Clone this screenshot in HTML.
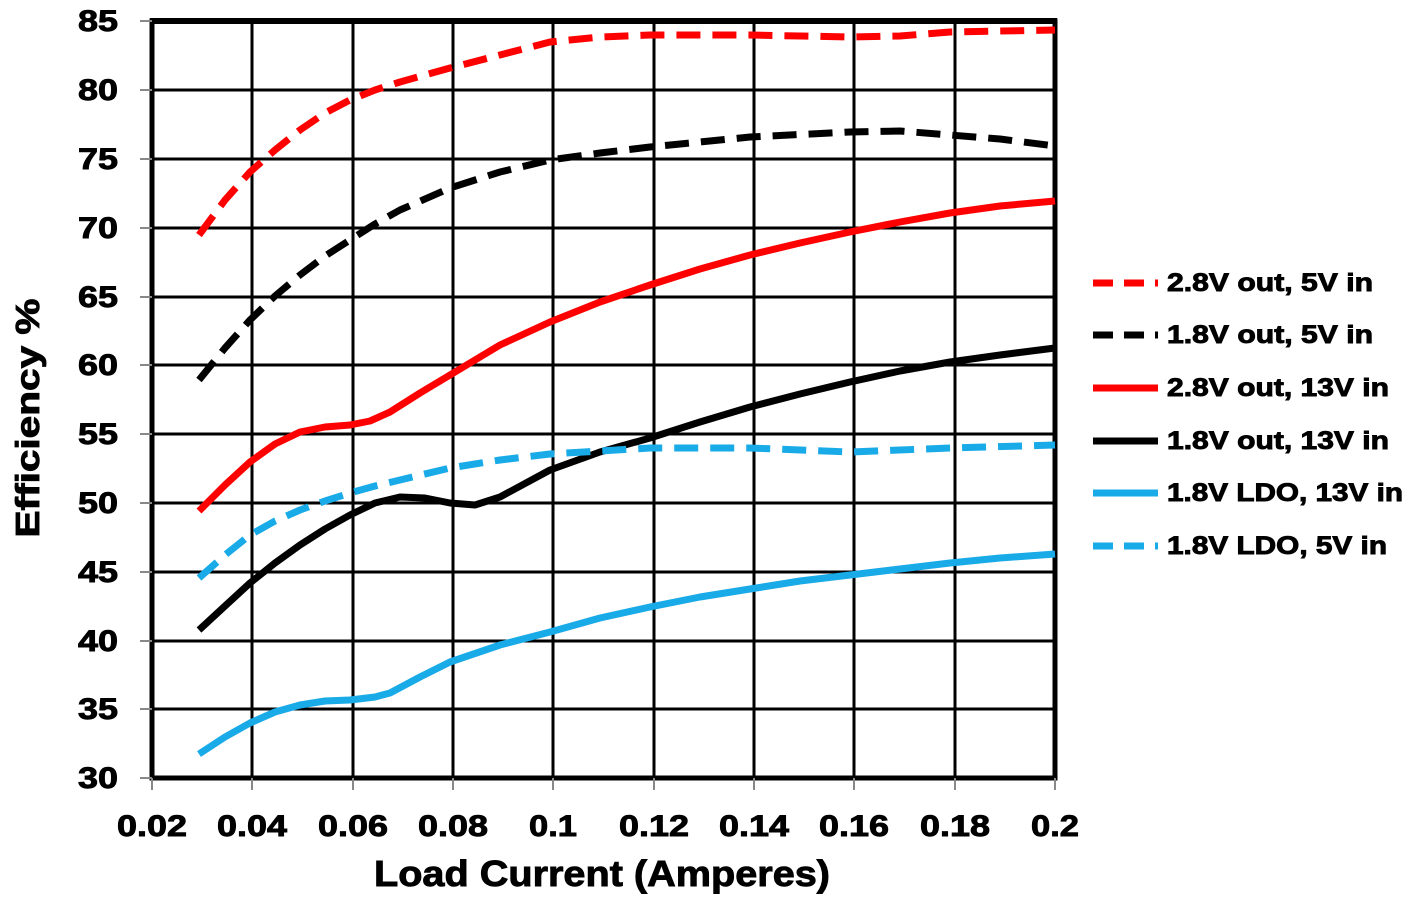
<!DOCTYPE html>
<html><head><meta charset="utf-8"><style>
body{margin:0;background:#fff}
svg{display:block}
text{font-family:"Liberation Sans",Arial,sans-serif;font-weight:bold;fill:#000;stroke:#000;stroke-width:0.9}
</style></head><body>
<svg width="1415" height="901" viewBox="0 0 1415 901" xmlns="http://www.w3.org/2000/svg">
<g stroke="#000" stroke-width="3">
<line x1="252" y1="21" x2="252" y2="778"/><line x1="353" y1="21" x2="353" y2="778"/>
<line x1="453" y1="21" x2="453" y2="778"/><line x1="553" y1="21" x2="553" y2="778"/>
<line x1="654" y1="21" x2="654" y2="778"/><line x1="754" y1="21" x2="754" y2="778"/>
<line x1="854" y1="21" x2="854" y2="778"/><line x1="955" y1="21" x2="955" y2="778"/>
<line x1="152" y1="90" x2="1055" y2="90"/><line x1="152" y1="159" x2="1055" y2="159"/>
<line x1="152" y1="228" x2="1055" y2="228"/><line x1="152" y1="297" x2="1055" y2="297"/>
<line x1="152" y1="365" x2="1055" y2="365"/><line x1="152" y1="434" x2="1055" y2="434"/>
<line x1="152" y1="503" x2="1055" y2="503"/><line x1="152" y1="572" x2="1055" y2="572"/>
<line x1="152" y1="641" x2="1055" y2="641"/><line x1="152" y1="709" x2="1055" y2="709"/>
</g>
<rect x="152" y="21" width="903" height="757" fill="none" stroke="#000" stroke-width="5"/>
<line x1="150" y1="21" x2="1057" y2="21" stroke="#000" stroke-width="6"/>
<g stroke="#888" stroke-width="2">
<line x1="140" y1="21" x2="152" y2="21"/><line x1="140" y1="90" x2="152" y2="90"/><line x1="140" y1="159" x2="152" y2="159"/>
<line x1="140" y1="228" x2="152" y2="228"/><line x1="140" y1="297" x2="152" y2="297"/><line x1="140" y1="365" x2="152" y2="365"/>
<line x1="140" y1="434" x2="152" y2="434"/><line x1="140" y1="503" x2="152" y2="503"/><line x1="140" y1="572" x2="152" y2="572"/>
<line x1="140" y1="641" x2="152" y2="641"/><line x1="140" y1="709" x2="152" y2="709"/><line x1="140" y1="778" x2="152" y2="778"/>
<line x1="152" y1="778" x2="152" y2="790"/><line x1="252" y1="778" x2="252" y2="790"/><line x1="353" y1="778" x2="353" y2="790"/>
<line x1="453" y1="778" x2="453" y2="790"/><line x1="553" y1="778" x2="553" y2="790"/><line x1="654" y1="778" x2="654" y2="790"/>
<line x1="754" y1="778" x2="754" y2="790"/><line x1="854" y1="778" x2="854" y2="790"/><line x1="955" y1="778" x2="955" y2="790"/>
<line x1="1055" y1="778" x2="1055" y2="790"/>
</g>
<g font-size="30" text-anchor="end">
<text x="118" y="31" textLength="40" lengthAdjust="spacingAndGlyphs">85</text>
<text x="118" y="100" textLength="40" lengthAdjust="spacingAndGlyphs">80</text>
<text x="118" y="169" textLength="40" lengthAdjust="spacingAndGlyphs">75</text>
<text x="118" y="238" textLength="40" lengthAdjust="spacingAndGlyphs">70</text>
<text x="118" y="307" textLength="40" lengthAdjust="spacingAndGlyphs">65</text>
<text x="118" y="375" textLength="40" lengthAdjust="spacingAndGlyphs">60</text>
<text x="118" y="444" textLength="40" lengthAdjust="spacingAndGlyphs">55</text>
<text x="118" y="513" textLength="40" lengthAdjust="spacingAndGlyphs">50</text>
<text x="118" y="582" textLength="40" lengthAdjust="spacingAndGlyphs">45</text>
<text x="118" y="651" textLength="40" lengthAdjust="spacingAndGlyphs">40</text>
<text x="118" y="719" textLength="40" lengthAdjust="spacingAndGlyphs">35</text>
<text x="118" y="788" textLength="40" lengthAdjust="spacingAndGlyphs">30</text>
</g>
<g font-size="30" text-anchor="middle">
<text x="152" y="836" textLength="70" lengthAdjust="spacingAndGlyphs">0.02</text>
<text x="252" y="836" textLength="70" lengthAdjust="spacingAndGlyphs">0.04</text>
<text x="353" y="836" textLength="70" lengthAdjust="spacingAndGlyphs">0.06</text>
<text x="453" y="836" textLength="70" lengthAdjust="spacingAndGlyphs">0.08</text>
<text x="553" y="836" textLength="48" lengthAdjust="spacingAndGlyphs">0.1</text>
<text x="654" y="836" textLength="70" lengthAdjust="spacingAndGlyphs">0.12</text>
<text x="754" y="836" textLength="70" lengthAdjust="spacingAndGlyphs">0.14</text>
<text x="854" y="836" textLength="70" lengthAdjust="spacingAndGlyphs">0.16</text>
<text x="955" y="836" textLength="70" lengthAdjust="spacingAndGlyphs">0.18</text>
<text x="1055" y="836" textLength="48" lengthAdjust="spacingAndGlyphs">0.2</text>
</g>
<text x="602" y="886" font-size="36" text-anchor="middle" textLength="456" lengthAdjust="spacingAndGlyphs">Load Current (Amperes)</text>
<text transform="translate(39,418) rotate(-90)" font-size="33" text-anchor="middle" textLength="239" lengthAdjust="spacingAndGlyphs">Efficiency %</text>
<g fill="none" stroke-width="7" stroke-linejoin="round">
<polyline stroke="#ff0000" stroke-dasharray="24 12" points="199,235 225,200 250,172 275,150 300,130 325,113 350,100 375,90 400,82 450,68 500,55 550,42 600,37 650,35 750,35 850,37 900,36 950,32 1055,30"/>
<polyline stroke="#000" stroke-dasharray="24 12" points="199,380 225,348 250,320 275,296 300,275 325,256 350,240 375,224 400,210 450,188 500,172 550,160 600,153 650,147 750,137 850,132 900,131 950,135 1000,139 1055,146"/>
<polyline stroke="#ff0000" points="199,511 225,485 250,462 275,444 300,432 325,427 350,425 370,421 390,412 420,393 450,375 500,345 550,322 600,302 650,285 700,269 750,255 800,243 850,232 900,222 950,213 1000,206 1055,201"/>
<polyline stroke="#000" points="199,630 225,606 250,583 275,563 300,545 325,529 350,515 375,503 400,497 425,498 450,503 475,505 500,497 550,470 600,452 650,438 700,422 750,407 800,394 850,382 900,371 950,362 1000,355 1055,348"/>
<polyline stroke="#19aae8" stroke-dasharray="24 12" points="199,578 225,555 250,535 275,521 300,510 325,501 350,493 375,486 400,480 450,468 500,460 550,454 650,448 750,448 850,452 950,448 1055,445"/>
<polyline stroke="#19aae8" points="199,754 225,737 250,723 275,712 300,705 325,701 350,700 375,697 390,693 420,677 450,662 500,645 550,632 600,618 650,607 700,597 750,589 800,581 850,575 900,569 950,563 1000,558 1055,554"/>
</g>
<g stroke-width="7">
<line x1="1093" y1="283" x2="1158" y2="283" stroke="#ff0000" stroke-dasharray="20 11"/>
<line x1="1093" y1="335" x2="1158" y2="335" stroke="#000" stroke-dasharray="20 11"/>
<line x1="1093" y1="388" x2="1158" y2="388" stroke="#ff0000"/>
<line x1="1093" y1="441" x2="1158" y2="441" stroke="#000"/>
<line x1="1093" y1="493" x2="1158" y2="493" stroke="#19aae8"/>
<line x1="1093" y1="546" x2="1158" y2="546" stroke="#19aae8" stroke-dasharray="20 11"/>
</g>
<g font-size="25">
<text x="1167" y="291" textLength="206" lengthAdjust="spacingAndGlyphs">2.8V out, 5V in</text>
<text x="1167" y="343" textLength="206" lengthAdjust="spacingAndGlyphs">1.8V out, 5V in</text>
<text x="1167" y="396" textLength="222" lengthAdjust="spacingAndGlyphs">2.8V out, 13V in</text>
<text x="1167" y="449" textLength="222" lengthAdjust="spacingAndGlyphs">1.8V out, 13V in</text>
<text x="1167" y="501" textLength="236" lengthAdjust="spacingAndGlyphs">1.8V LDO, 13V in</text>
<text x="1167" y="554" textLength="220" lengthAdjust="spacingAndGlyphs">1.8V LDO, 5V in</text>
</g>
</svg>
</body></html>
